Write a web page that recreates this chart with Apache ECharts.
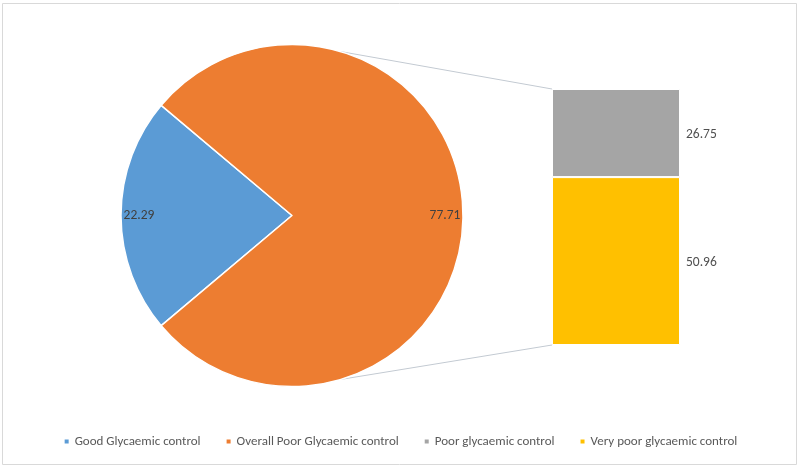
<!DOCTYPE html>
<html>
	<head>
		<meta charset="utf-8">
		<script src="https://cdn.jsdelivr.net/npm/echarts@6/dist/echarts.min.js"></script>
		<title>Glycaemic control</title>
	</head>
	<style>
		* { margin: 0; padding: 0; }
		body { background: #fff; }
	</style>
	<body>
		<div id="main" style="width:800px;height:468px;"></div>
	</body>
	<script type="text/javascript">
		// data
		var pieNames = ['Good Glycaemic control', 'Overall Poor Glycaemic control'];
		var pieValues = [22.29, 77.71];
		var barNames = ['Poor glycaemic control', 'Very poor glycaemic control'];
		var barValues = [26.75, 50.96];

		var colors = {
			'Good Glycaemic control': '#5B9BD5',
			'Overall Poor Glycaemic control': '#ED7D31',
			'Poor glycaemic control': '#A5A5A5',
			'Very poor glycaemic control': '#FFC000'
		};

		var font = 'Carlito, Lato, sans-serif';
		var pieCenter = [292, 215.5];
		var pieR = 171;
		// blue slice centred on the left side
		var startAngle = 180 + pieValues[0] / (pieValues[0] + pieValues[1]) * 180;
		var gridBox = { left: 552, top: 89, width: 128, height: 256 };
		var barTotal = barValues[0] + barValues[1];

		var pieData = pieNames.map(function (n, i) {
			return { name: n, value: pieValues[i], itemStyle: { color: colors[n] } };
		});

		var barLabel = {
			show: true, position: 'right', distance: 6, offset: [0, 2],
			color: '#505050', fontSize: 13.5, fontFamily: font,
			formatter: function (p) { return p.value.toFixed(2); }
		};

		var option = {
			animation: false,
			textStyle: { fontFamily: font },
			legend: {
				bottom: 15,
				left: 'center',
				icon: 'rect',
				itemWidth: 6,
				itemHeight: 6,
				itemGap: 24,
				textStyle: { color: '#595959', fontSize: 13, fontFamily: font },
				data: pieNames.concat(barNames)
			},
			grid: gridBox,
			xAxis: { type: 'category', data: ['x'], show: false },
			yAxis: { type: 'value', min: 0, max: barTotal, show: false },
			series: [
				{
					type: 'pie',
					center: pieCenter,
					radius: pieR,
					startAngle: startAngle,
					label: { show: false },
					labelLine: { show: false },
					itemStyle: { borderColor: '#fff', borderWidth: 1.5 },
					data: pieData
				},
				{
					// only carries the labels, near the rim like Excel does
					type: 'pie',
					center: pieCenter,
					radius: [pieR - 42, pieR],
					startAngle: startAngle,
					silent: true,
					itemStyle: { color: 'rgba(0,0,0,0)' },
					label: {
						show: true,
						position: 'inside',
						color: '#404040',
						fontSize: 13.5,
						fontFamily: font,
						formatter: function (p) { return p.value.toFixed(2); }
					},
					labelLine: { show: false },
					data: pieNames.map(function (n, i) { return { name: n, value: pieValues[i] }; })
				},
				{
					type: 'bar',
					name: barNames[1],
					stack: 'sub',
					barWidth: '100%',
					itemStyle: { color: colors[barNames[1]], borderColor: '#fff', borderWidth: 1 },
					label: barLabel,
					data: [barValues[1]]
				},
				{
					type: 'bar',
					name: barNames[0],
					stack: 'sub',
					barWidth: '100%',
					itemStyle: { color: colors[barNames[0]], borderColor: '#fff', borderWidth: 1 },
					label: barLabel,
					data: [barValues[0]]
				}
			]
		};

		var chart = echarts.init(document.getElementById('main'));
		chart.setOption(option);

		// connector lines from pie rim to the bar corners
		var a = 73.5 * Math.PI / 180;
		var topY = chart.convertToPixel({ gridIndex: 0 }, [0, barTotal])[1];
		var botY = chart.convertToPixel({ gridIndex: 0 }, [0, 0])[1];
		var px = pieCenter[0] + pieR * Math.cos(a);
		chart.setOption({
			graphic: [
				{ type: 'rect', shape: { x: 2.5, y: 3.5, width: 794, height: 461 }, style: { fill: 'none', stroke: '#d9d9d9', lineWidth: 1 }, silent: true },
				{ type: 'line', shape: { x1: px, y1: pieCenter[1] - pieR * Math.sin(a), x2: gridBox.left, y2: topY }, style: { stroke: '#c3cad2', lineWidth: 1 }, z: 0 },
				{ type: 'line', shape: { x1: px, y1: pieCenter[1] + pieR * Math.sin(a), x2: gridBox.left, y2: botY }, style: { stroke: '#c3cad2', lineWidth: 1 }, z: 0 }
			]
		});
	</script>
</html>
